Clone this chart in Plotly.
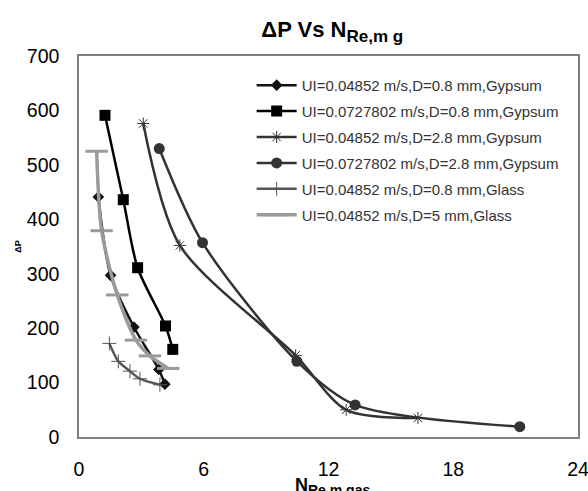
import plotly.graph_objects as go

names = [
    "UI=0.04852 m/s,D=0.8 mm,Gypsum",
    "UI=0.0727802 m/s,D=0.8 mm,Gypsum",
    "UI=0.04852 m/s,D=2.8 mm,Gypsum",
    "UI=0.0727802 m/s,D=2.8 mm,Gypsum",
    "UI=0.04852 m/s,D=0.8 mm,Glass",
    "UI=0.04852 m/s,D=5 mm,Glass",
]

x1 = [0.93, 1.52, 2.64, 3.84, 4.13]
y1 = [441, 297, 202, 124, 97]

x2 = [1.25, 2.13, 2.82, 4.16, 4.51]
y2 = [591, 436, 311, 204, 161]

x3 = [3.09, 4.85, 10.42, 12.85, 16.3]
y3 = [576, 352, 150, 50, 35]

x4 = [3.86, 5.94, 10.48, 13.28, 21.2]
y4 = [530, 357, 139, 59, 19]

x5 = [1.46, 1.89, 2.45, 2.93, 3.89]
y5 = [172, 139, 121, 107, 96]

x6 = [0.85, 1.09, 1.84, 2.74, 3.41, 4.29]
y6 = [525, 379, 261, 178, 149, 126]

xs = [x1, x2, x3, x4, x5, x6]
ys = [y1, y2, y3, y4, y5, y6]

styles = [
    dict(color="#111111", width=2.5, symbol="diamond", msize=9, mline=0),
    dict(color="#000000", width=2.5, symbol="square", msize=11, mline=0),
    dict(color="#333333", width=2.5, symbol="asterisk-open", msize=10, mline=1),
    dict(color="#333333", width=2.5, symbol="circle", msize=11, mline=0),
    dict(color="#555555", width=2.5, symbol="cross-thin-open", msize=10, mline=1),
    dict(color="#9a9a9a", width=3.5, symbol="line-ew-open", msize=16, mline=3),
]

fig = go.Figure()
for i, (n, x, y, s) in enumerate(zip(names, xs, ys, styles)):
    fig.add_trace(go.Scatter(
        x=x, y=y, name=n, mode="lines+markers",
        legendgroup=f"g{i}",
        line=dict(color=s["color"], width=s["width"], shape="spline", smoothing=0.8),
        marker=dict(symbol=s["symbol"], size=s["msize"], color=s["color"],
                    line=dict(color=s["color"], width=s["mline"])),
    ))

fig.add_annotation(
    text="<b>N<sub><span style='font-size:14px'>Re m gas</span></sub></b>",
    xref="paper", yref="paper", x=0.509, y=-0.095, xanchor="center", yanchor="top",
    showarrow=False, font=dict(size=18, color="#000"),
)

fig.update_layout(
    width=588, height=491,
    margin=dict(l=79, r=10, t=56, b=54, autoexpand=False),
    paper_bgcolor="white", plot_bgcolor="white",
    font=dict(family="Liberation Sans, Arial, sans-serif", color="#000"),
    title=dict(text="<b>ΔP Vs N<sub><span style='font-size:17px'>Re,m g</span></sub></b>",
               x=0.565, xanchor="center",
               y=0.94, yanchor="middle", font=dict(size=22, color="#000")),
    showlegend=True,
    legend=dict(x=0.346, y=0.966, xanchor="left", yanchor="top",
                bgcolor="rgba(0,0,0,0)", font=dict(size=15, color="#333"),
                tracegroupgap=3.4, itemwidth=40),
    xaxis=dict(range=[0, 24], tickvals=[0, 6, 12, 18, 24], showgrid=False,
               zeroline=False, showline=True, linecolor="#808080", linewidth=1.5,
               mirror=True, ticks="", tickfont=dict(size=19.5), automargin=False,
               ticklabelstandoff=14, ticklabeloverflow="allow"),
    yaxis=dict(range=[0, 700], tickvals=[0, 100, 200, 300, 400, 500, 600, 700],
               showgrid=False, zeroline=False, showline=True, linecolor="#808080",
               linewidth=1.5, mirror=True, ticks="", tickfont=dict(size=19.5),
               ticklabelstandoff=14, automargin=False, ticklabeloverflow="allow",
               title=dict(text="<b>ΔP</b>", font=dict(size=9), standoff=4)),
)

fig.write_html("out.html",
               config={"displayModeBar": False},
               post_script="document.body.style.margin='0';document.body.style.overflow='hidden';")
